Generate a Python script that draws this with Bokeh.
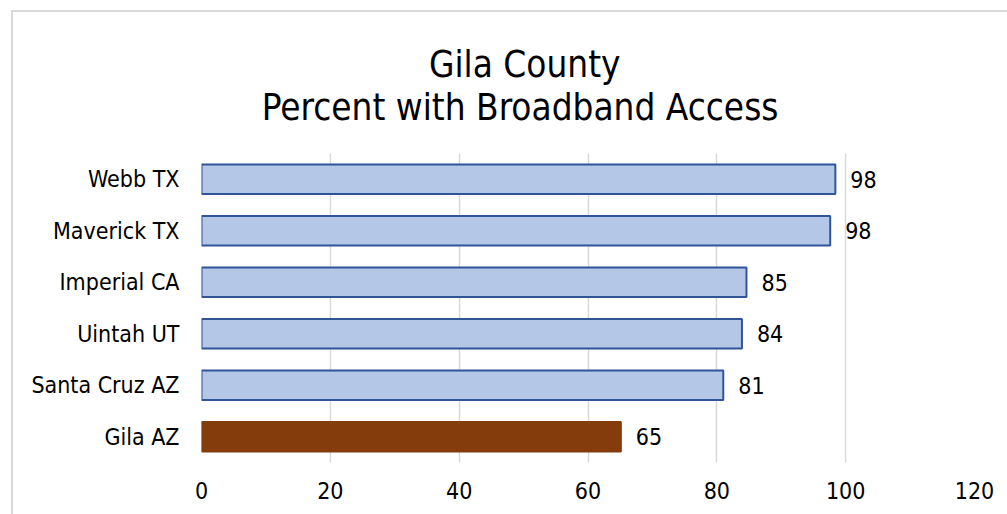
from bokeh.plotting import figure
from bokeh.models import FactorRange, Range1d, FixedTicker, Title, ColumnDataSource
from bokeh.embed import file_html
from bokeh.resources import INLINE
from bokeh.core.properties import value

# ---- data ----
title_line1 = "Gila County"
title_line2 = "Percent with Broadband Access"
counties = ["Webb TX", "Maverick TX", "Imperial CA", "Uintah UT", "Santa Cruz AZ", "Gila AZ"]
broadband_pct = [98.4, 97.6, 84.6, 83.9, 81.0, 65.1]
bar_colors = ["#B4C7E7", "#B4C7E7", "#B4C7E7", "#B4C7E7", "#B4C7E7", "#843C0C"]
edge_colors = ["#2F5597", "#2F5597", "#2F5597", "#2F5597", "#2F5597", "#843C0C"]
x_ticks = [0, 20, 40, 60, 80, 100, 120]

FONT = "DejaVu Sans Condensed"
OX, OY, BW = 11, 10, 2  # chart-area offset and outer border width
CW, CH = 1007 - OX, 514 - OY
FRAME_L, FRAME_T, FRAME_B = 201, 153, 460

labels = [str(int(v + 0.5)) for v in broadband_pct]
src = ColumnDataSource(dict(county=counties, pct=broadband_pct, fill=bar_colors,
                            edge=edge_colors, label=labels))

p = figure(width=CW, height=CH, output_backend="svg", toolbar_location=None,
           y_range=FactorRange(factors=list(reversed(counties))),
           x_range=Range1d(0, 120), title=None,
           min_border_left=FRAME_L - OX - BW, min_border_right=35,
           min_border_bottom=514 - FRAME_B,
           min_border_top=FRAME_T - OY - BW, margin=(OY, 0, 0, OX))
p.styles = {"border-left": f"{BW}px solid #D9D9D9", "border-top": f"{BW}px solid #D9D9D9"}

p.hbar(y="county", right="pct", left=0, height=0.57, fill_color="fill",
       line_color="edge", line_width=2, source=src)
p.text(x="pct", y="county", text="label", source=src, x_offset=15,
       text_align="left", text_baseline="middle", text_font=value(FONT),
       text_font_size="23px", text_color="#000000")

# two-line title, centred on the chart area (no-break spaces centre line 1 and
# shift the block left of the frame centre)
nb = "\u00a0"
title = Title(text=nb * 16 + title_line1 + "\n" + title_line2 + nb * 13, align="center",
              text_font=FONT, text_font_size="36.6px", text_font_style="normal",
              text_color="#000000", standoff=50, text_line_height=1.0)
p.add_layout(title, "above")

p.xaxis.ticker = FixedTicker(ticks=x_ticks)
p.xaxis.axis_line_color = None
p.xaxis.major_tick_line_color = None
p.xaxis.minor_tick_line_color = None
p.xaxis.major_tick_out = 0
p.xaxis.major_label_standoff = 19
p.xaxis.major_label_text_font = FONT
p.xaxis.major_label_text_font_size = "23px"
p.xaxis.major_label_text_color = "#000000"

p.yaxis.axis_line_color = None
p.yaxis.major_tick_line_color = None
p.yaxis.major_tick_out = 0
p.yaxis.major_label_standoff = 22
p.yaxis.major_label_text_font = FONT
p.yaxis.major_label_text_font_size = "23px"
p.yaxis.major_label_text_color = "#000000"

p.xgrid.grid_line_color = "#D9D9D9"
p.xgrid.grid_line_width = 1.5
p.ygrid.grid_line_color = None
p.outline_line_color = None

open("out.html", "w").write(file_html(p, INLINE))
